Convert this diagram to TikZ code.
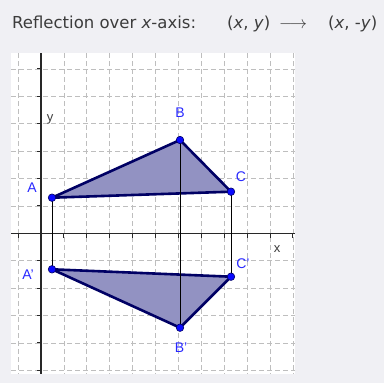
\documentclass[tikz,border=0pt]{standalone}
\usepackage{fontspec}
\setmainfont{Liberation Sans}
\newfontfamily\titlefont{DejaVu Sans}
\definecolor{bg}{RGB}{240,240,244}
\definecolor{gridc}{RGB}{190,190,190}
\definecolor{edgec}{RGB}{0,0,100}
\definecolor{fillc}{RGB}{146,146,194}
\definecolor{ptblue}{RGB}{10,10,255}
\definecolor{lblblue}{RGB}{40,40,255}
\definecolor{txt}{RGB}{60,60,60}
\definecolor{axisc}{RGB}{40,40,40}
\begin{document}
\begin{tikzpicture}[x=1pt,y=-1pt,
  gridline/.style={gridc,line width=0.8pt,dash pattern=on 5pt off 3pt},
  axisline/.style={axisc,line width=1.3pt},
  tickline/.style={axisc,line width=1pt},
  tri/.style={draw=edgec,fill=fillc,line width=2.6pt,line join=round},
  proj/.style={black,line width=0.8pt},
  pt/.style={circle,fill=ptblue,draw=edgec,line width=0.6pt,inner sep=0pt,minimum size=7.5pt},
  lbl/.style={lblblue,font=\fontsize{14}{16}\selectfont},
  axlbl/.style={txt,font=\fontsize{13}{15}\selectfont},
  title/.style={txt,font=\titlefont\fontsize{16.5}{19}\selectfont,anchor=base west,inner sep=0pt}]
\fill[bg] (0,0) rectangle (384,383);
\useasboundingbox (0,0) rectangle (384,383);
\fill[white] (11,53) rectangle (295,374);
% grid
\foreach \k in {-1,...,11} \draw[gridline] ({41+22.9*\k},53) -- ({41+22.9*\k},374);
\foreach \k in {-6,...,5} \draw[gridline] (11,{233.3+27.4*\k}) -- (295,{233.3+27.4*\k});
% axes
\draw[axisline] (11,233.3) -- (295,233.3);
\draw[axisline] (41,53) -- (41,374);
\foreach \k in {-1,1,2,...,11} \draw[tickline] ({41+22.9*\k},233.3) -- ({41+22.9*\k},238);
\foreach \k in {-6,...,-1,1,2,...,5} \draw[tickline] (41,{233.3+27.4*\k}) -- (36.5,{233.3+27.4*\k});
\node[axlbl] (ylab) at (50,119) {y};
\node[axlbl] (xlab) at (277,249) {x};
% points
\coordinate (A) at (52,197.7);
\coordinate (B) at (180,140);
\coordinate (C) at (231,191.7);
\coordinate (Ap) at (52,269.3);
\coordinate (Bp) at (180,327.7);
\coordinate (Cp) at (231,276.7);
\filldraw[tri] (A) -- (B) -- (C) -- cycle;
\filldraw[tri] (Ap) -- (Bp) -- (Cp) -- cycle;
\draw[proj] (A) -- (Ap);
\draw[proj] (B) -- (Bp);
\draw[proj] (C) -- (Cp);
\foreach \p in {A,B,C,Ap,Bp,Cp} \node[pt] (dot\p) at (\p) {};
\node[lbl] (lA) at (32,187.7) {A};
\node[lbl] (lB) at (180,112.7) {B};
\node[lbl] (lC) at (241,176.7) {C};
\node[lbl] (lAp) at (28,275) {A'};
\node[lbl] (lCp) at (243,263.3) {C'};
\node[lbl] (lBp) at (181,348) {B'};
% title
\node[title] (t1) at (12,28) {Reflection over \textit{x}-axis:};
\node[title] (t2) at (227,28) {(\textit{x}, \textit{y})};
\node[title] (t3) at (279,28) {$\longrightarrow$};
\node[title] (t4) at (328,28) {(\textit{x}, -\textit{y})};
\end{tikzpicture}
\end{document}
